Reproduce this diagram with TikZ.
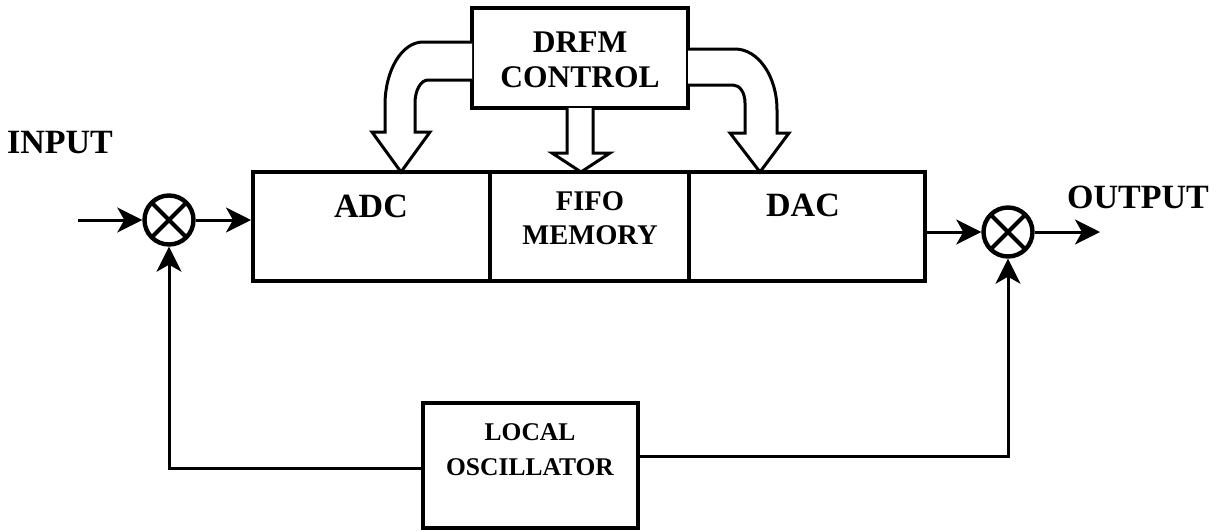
\documentclass[tikz,border=0pt]{standalone}
\usepackage{fontspec}
\setmainfont{Liberation Serif}
\usetikzlibrary{arrows.meta,calc}

\begin{document}
\begin{tikzpicture}[x=0.5pt,y=-0.5pt,
  blk/.style={draw, line width=2pt, inner sep=0pt},
  lbl/.style={font=\bfseries, align=center, inner sep=0pt},
  mixer/.style={circle, draw, line width=2.2pt, minimum size=24.5pt, inner sep=0pt,
    path picture={\draw[line width=2pt]
      (path picture bounding box.north west) -- (path picture bounding box.south east)
      (path picture bounding box.north east) -- (path picture bounding box.south west);}},
  conn/.style={line width=1.5pt, -{Stealth[length=12.5pt,width=12.5pt,inset=3.5pt]}},
  hollow/.style={draw, fill=white, line width=1.5pt, line join=miter}]

\useasboundingbox (0,0) rectangle (1221,531);

% blocks
\node[blk, minimum width=108pt, minimum height=50pt] (drfm) at (580,58) {};
\node[blk, minimum width=118.5pt, minimum height=54.5pt] (adc) at (371.5,226.5) {};
\node[blk, minimum width=99.5pt, minimum height=54.5pt] (fifo) at (589.5,226.5) {};
\node[blk, minimum width=118pt, minimum height=54.5pt] (dac) at (807,226.5) {};
\node[blk, minimum width=107.5pt, minimum height=62.5pt] (lo) at (530.5,465.5) {};

% block texts
\node[lbl, font=\bfseries\fontsize{15.75}{17.5}\selectfont] (drfmT) at (580,60) {DRFM\\CONTROL};
\node[lbl, font=\bfseries\fontsize{17}{20}\selectfont] (adcT) at (371,206) {ADC};
\node[lbl, font=\bfseries\fontsize{14.25}{17}\selectfont] (fifoT) at (590,218) {FIFO\\MEMORY};
\node[lbl, font=\bfseries\fontsize{17}{20}\selectfont] (dacT) at (803,205) {DAC};
\node[lbl, font=\bfseries\fontsize{12.75}{17.5}\selectfont] (loT) at (530,450) {LOCAL\\OSCILLATOR};
\node[lbl, font=\bfseries\fontsize{17}{20}\selectfont] (inT) at (60,143) {INPUT};
\node[lbl, font=\bfseries\fontsize{17}{20}\selectfont] (outT) at (1138,197) {OUTPUT};

% mixers
\node[mixer] (m1) at (169,220) {};
\node[mixer] (m2) at (1008,232) {};

% signal path
\coordinate (in) at (78,220);
\coordinate (out) at (1100,232);
\draw[conn] (in) -- (m1.west);
\draw[conn] (m1.east) -- (m1.east -| adc.west);
\draw[conn] (m2.west -| dac.east) -- (m2.west);
\draw[conn] (m2.east) -- (out);

% local oscillator feeds
\draw[conn] ([yshift=-1.5pt]lo.west) -| (m1.south);
\draw[conn] ([yshift=4.5pt]lo.east) -| (m2.south);

% control arrows (hollow)
\draw[hollow] (472,42) -- (423,42) .. controls (402,42) and (385,70) .. (385,105)
  -- (385,132) -- (372,132) -- (401,172) -- (430,132) -- (415,132) -- (415,103)
  .. controls (415,90) and (421,80) .. (428,80) -- (472,80);
\draw[hollow] (567,108) -- (567,153) -- (552,153) -- (581,172) -- (610,153)
  -- (593,153) -- (593,108);
\draw[hollow] (688,49) -- (735,49) .. controls (758,49) and (777,76) .. (777,110)
  -- (777,133) -- (789,133) -- (760,172) -- (730,133) -- (745,133) -- (745,103)
  .. controls (745,93) and (740,85) .. (733,85) -- (688,85);

\end{tikzpicture}
\end{document}
